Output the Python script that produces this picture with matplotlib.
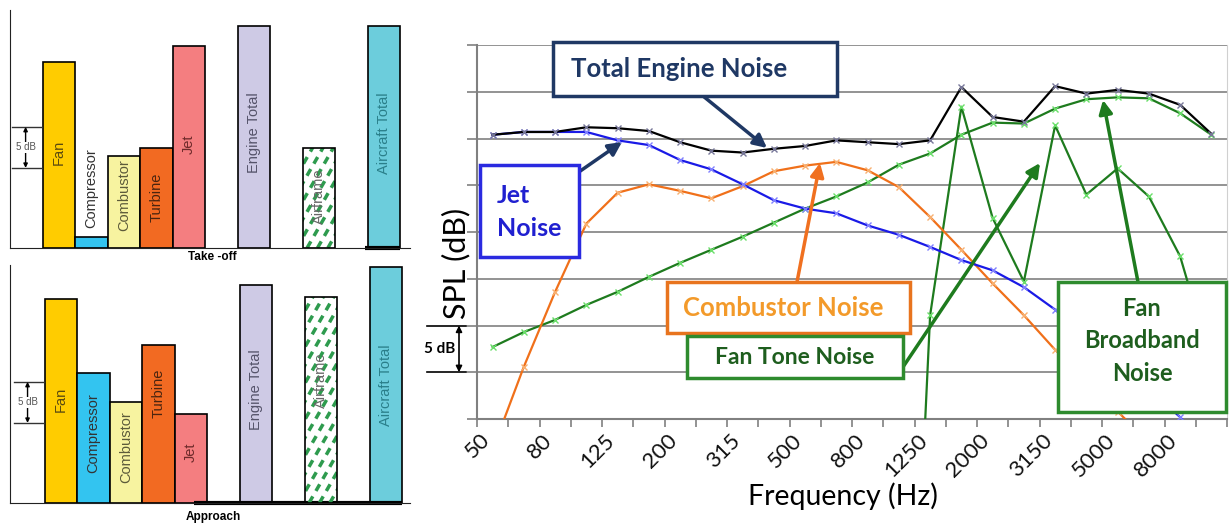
import numpy as np
import matplotlib.pyplot as plt
import matplotlib.transforms as mtransforms
from matplotlib.patches import Rectangle, FancyArrowPatch

# ---- data ----
# left: relative levels (dB above the baseline) per noise source
bar_labels = ['Fan', 'Compressor', 'Combustor', 'Turbine', 'Jet',
              'Engine Total', 'Airframe', 'Aircraft Total']
takeoff = [22.7, 1.3, 11.2, 12.2, 24.6, 27.1, 12.2, 27.1]
approach = [24.8, 15.9, 12.3, 19.3, 10.9, 26.6, 25.1, 28.8]

# right: 1/3 octave spectra (dB, relative)
freqs = ['50', '63', '80', '100', '125', '160', '200', '250', '315', '400', '500', '630',
         '800', '1000', '1250', '1600', '2000', '2500', '3150', '4000', '5000', '6300',
         '8000', '10000']
total_engine = [30.4, 30.7, 30.7, 31.2, 31.1, 30.8, 29.6, 28.7, 28.5, 28.9, 29.2, 29.8,
                29.6, 29.4, 29.8, 35.5, 32.3, 31.8, 35.6, 34.8, 35.2, 34.8, 33.6, 30.5]
jet_noise = [30.4, 30.7, 30.7, 30.7, 29.8, 29.3, 27.7, 26.7, 25.1, 23.4, 22.5, 22.0,
             20.7, 19.7, 18.4, 17.0, 15.9, 14.1, 11.7, 9.0, 6.2, 3.2, 0.2, -3.6]
combustor_noise = [-3.3, 5.6, 13.6, 20.9, 24.2, 25.1, 24.4, 23.6, 24.9, 26.5, 27.1, 27.5,
                   26.6, 24.8, 21.6, 18.1, 14.5, 11.1, 7.4, 4.1, 0.8, -2.5, -6.0, -9.0]
fan_broadband = [7.7, 9.3, 10.6, 12.2, 13.6, 15.2, 16.7, 18.1, 19.5, 21.0, 22.5, 23.8,
                 25.3, 27.2, 28.4, 30.4, 31.7, 31.6, 33.2, 34.2, 34.4, 34.3, 32.7, 30.4]
fan_tone = [np.nan] * 13 + [-60.0, 11.1, 33.4, 21.5, 14.7, 31.4, 24.0, 26.8, 23.8, 17.4, 6.0]

# ---- styles ----
bar_slots = [0, 1, 2, 3, 4, 6, 8, 10]
bar_colors = ['#FFCC00', '#33C4F0', '#F7F3A0', '#F26A22', '#F47E80',
              '#CECAE5', 'white', '#6CCDDC']
text_colors = ['#5a4a10', '#333333', '#5c5a3a', '#4a2510', '#6e2a2a',
               '#55536a', '#666666', '#2a7f8a']
takeoff_label_y = [11.6, 7.3, 6.5, 6.2, 12.6, 14.0, 6.3, 14.0]
approach_label_y = [12.6, 8.5, 6.8, 13.4, 6.2, 13.8, 15.0, 14.4]
narrow = ['Liberation Sans Narrow', 'Liberation Sans', 'DejaVu Sans']
calibri = ['Lato', 'DejaVu Sans']

W, H = 1230, 525
fig = plt.figure(figsize=(12.3, 5.25), dpi=100)


def px_axes(x0, y0, x1, y1):
    return fig.add_axes([x0 / W, 1 - y1 / H, (x1 - x0) / W, (y1 - y0) / H])


def dashed_fill(ax, bar, pos):
    # green dashed diagonal strokes, clipped to the bar
    slope = 6.9
    for x0 in np.arange(pos - 0.5 - 30 / slope, pos + 0.5, 0.32):
        ln, = ax.plot([x0, x0 + 30 / slope], [0, 30], color='#2E9B4E', lw=2.5,
                      linestyle=(0, (2.2, 1.8)), solid_capstyle='butt', zorder=2.5)
        ln.set_clip_path(bar)


def draw_bars(ax, values, label_y, xlim, thick):
    for i, (pos, v) in enumerate(zip(bar_slots, values)):
        if bar_labels[i] == 'Airframe':
            b = ax.bar(pos, v, width=1, color='white', edgecolor='none', zorder=2)[0]
            dashed_fill(ax, b, pos)
            ax.bar(pos, v, width=1, fill=False, edgecolor='black', linewidth=1.2, zorder=3)
        else:
            ax.bar(pos, v, width=1, color=bar_colors[i], edgecolor='black', linewidth=1.2,
                   zorder=2)
        ax.text(pos, label_y[i], bar_labels[i], rotation=90, ha='center', va='center',
                fontsize=10.5, color=text_colors[i], family=narrow, zorder=4)
    ax.set_xlim(*xlim)
    ax.set_ylim(0, 29)
    ax.set_xticks([])
    ax.set_yticks([])
    for s in ['top', 'right']:
        ax.spines[s].set_visible(False)
    ax.spines['left'].set_color('#222222')
    ax.spines['bottom'].set_color('#222222')
    ax.plot(thick, [0, 0], color='black', lw=3, solid_capstyle='butt', clip_on=False)
    # 5 dB scale mark
    for yy in [9.76, 14.76]:
        ax.plot([-1.45, -0.52], [yy, yy], color='#333333', lw=1)
    ax.annotate('', xy=(-1.03, 14.76), xytext=(-1.03, 9.76),
                arrowprops=dict(arrowstyle='<|-|>', color='black', lw=1, mutation_scale=6,
                                shrinkA=0, shrinkB=0))
    ax.text(-1.03, 12.26, '5 dB', ha='center', va='center', fontsize=7, color='#555555',
            family=narrow, bbox=dict(fc='white', ec='none', pad=0.5))


ax1 = px_axes(10, 10, 410, 248)
draw_bars(ax1, takeoff, takeoff_label_y, (-1.51, 10.8), [9.4, 10.5])
fig.text(212 / W, 1 - 257 / H, 'Take -off', ha='center', va='center', fontsize=8.5,
         fontweight='bold', family=narrow)

ax2 = px_axes(10, 265, 410, 503)
draw_bars(ax2, approach, approach_label_y, (-1.57, 10.74), [4.1, 10.5])
fig.text(213 / W, 1 - 517 / H, 'Approach', ha='center', va='center', fontsize=8.5,
         fontweight='bold', family=narrow)

# ---- right spectrum chart ----
ax = px_axes(477, 45, 1227, 419)
x = np.arange(len(freqs))
green = '#1E7B1E'
ax.plot(x, fan_broadband, color=green, lw=1.6, marker='x', ms=4, mec='#6adf6a', zorder=3)
ax.plot(x, fan_tone, color=green, lw=1.6, marker='x', ms=4, mec='#6adf6a', zorder=3)
ax.plot(x, combustor_noise, color='#F0701A', lw=1.6, marker='x', ms=4, mec='#f8b070', zorder=3)
ax.plot(x, jet_noise, color='#1a1ae6', lw=1.6, marker='x', ms=4, mec='#8080ff', zorder=3)
ax.plot(x, total_engine, color='black', lw=1.6, marker='x', ms=4, mec='#777799', zorder=3)

ax.set_xlim(-0.5, 23.5)
ax.set_ylim(0, 40)
ax.set_axisbelow(True)
ax.set_yticks(np.arange(0, 41, 5))
ax.set_yticklabels([])
ax.yaxis.grid(True, color='#808080', lw=1.2)
ax.set_xticks(np.arange(-0.5, 24, 1))
ax.set_xticklabels([])
ax.tick_params(axis='x', length=6, color='#808080', width=1.2)
ax.tick_params(axis='y', length=7, color='#808080', width=1.2)

# rotated category labels, every second band
lab_tr = ax.get_xaxis_transform() + mtransforms.ScaledTranslation(
    -0.06, -0.18, fig.dpi_scale_trans)
for i in x[::2]:
    ax.text(i, 0, freqs[i], transform=lab_tr, rotation=45, ha='right', va='center',
            rotation_mode='anchor', fontsize=16, family=calibri, color='#111111')

ax.spines['top'].set_visible(False)
ax.spines['right'].set_color('#d0d0d0')
ax.spines['left'].set_color('#808080')
ax.spines['bottom'].set_color('#808080')
ax.spines['left'].set_linewidth(1.5)
ax.spines['bottom'].set_linewidth(1.5)

fig.text(456 / W, 1 - 263 / H, 'SPL (dB)', rotation=90, ha='center', va='center',
         fontsize=22, family=calibri)
fig.text(843 / W, 1 - 496 / H, 'Frequency (Hz)', ha='center', va='center',
         fontsize=20.5, family=calibri)


def dx(px):
    return -0.5 + (px - 477) / 31.25


def dy(py):
    return (419 - py) / 9.35


# 5 dB scale mark on the right chart
for yy in [5, 10]:
    ax.plot([dx(427), dx(466)], [yy, yy], color='black', lw=1.2, clip_on=False)
ax.annotate('', xy=(dx(459), 10), xytext=(dx(459), 5),
            arrowprops=dict(arrowstyle='<|-|>', color='black', lw=1.2, mutation_scale=9,
                            shrinkA=0, shrinkB=0), annotation_clip=False)
ax.text(dx(440), 7.5, '5 dB', ha='center', va='center', fontsize=11, fontweight='bold',
        family=calibri)


def callout(x0, y0, x1, y1, edge):
    ax.add_patch(Rectangle((dx(x0), dy(y1)), dx(x1) - dx(x0), dy(y0) - dy(y1),
                           fc='white', ec=edge, lw=2.5, zorder=5, clip_on=False))


def arrow(p0, p1, color):
    ax.add_patch(FancyArrowPatch((dx(p0[0]), dy(p0[1])), (dx(p1[0]), dy(p1[1])),
                                 arrowstyle='-|>', mutation_scale=20, lw=2.5, color=color,
                                 zorder=4, clip_on=False, shrinkA=0, shrinkB=0))


navy = '#1F3864'
callout(553, 42, 837, 96, navy)
ax.text(dx(571), dy(69), 'Total Engine Noise', ha='left', va='center', fontsize=18.5,
        fontweight='bold', color=navy, family=calibri, zorder=6)
arrow((703, 96), (767, 148), navy)

callout(480, 165, 579, 257, '#2A2AE0')
ax.text(dx(497), dy(212), 'Jet\nNoise', ha='left', va='center', fontsize=18,
        fontweight='bold', color='#2020D0', family=calibri, linespacing=1.55, zorder=6)
arrow((563, 183), (622, 142), navy)

callout(667, 282, 910, 333, '#E8741E')
ax.text(dx(683), dy(308), 'Combustor Noise', ha='left', va='center', fontsize=18.5,
        fontweight='bold', color='#F39A2A', family=calibri, zorder=6)
arrow((797, 282), (820, 163), '#F07020')

callout(687, 336, 903, 378, '#2E8B2E')
ax.text(dx(715), dy(358), 'Fan Tone Noise', ha='left', va='center', fontsize=16.5,
        fontweight='bold', color='#1E5E1E', family=calibri, zorder=6)
arrow((903, 367), (1040, 163), green)

callout(1058, 282, 1226, 412, '#2E8B2E')
ax.text(dx(1142), dy(341), 'Fan\nBroadband\nNoise', ha='center', va='center', fontsize=17,
        fontweight='bold', color='#1E5E1E', family=calibri, linespacing=1.5, zorder=6)
arrow((1138, 282), (1103, 100), green)

fig.savefig('out.png', dpi=100)
